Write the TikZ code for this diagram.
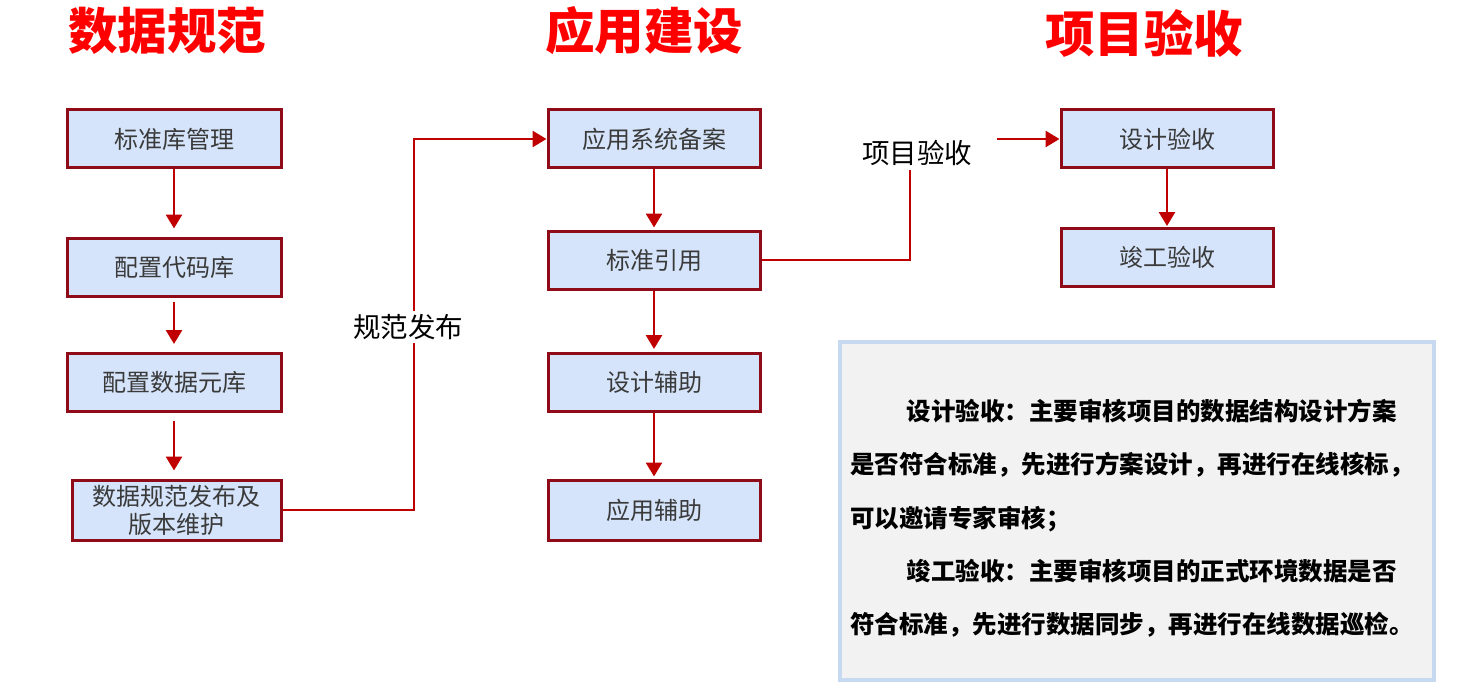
\documentclass[tikz,border=0pt]{standalone}
\usepackage{fontspec}
\setmainfont{Noto Sans CJK SC}
\usetikzlibrary{arrows.meta}
\definecolor{boxfill}{HTML}{D5E4FA}
\definecolor{boxline}{HTML}{8E0B17}
\definecolor{arrred}{HTML}{C00000}
\definecolor{boxtext}{HTML}{3A3A3A}
\definecolor{notefill}{HTML}{F2F2F2}
\definecolor{noteline}{HTML}{C6D9F1}
\definecolor{titlered}{HTML}{FF0000}
\begin{document}
\begin{tikzpicture}[x=1pt,y=-1pt,
  stepbox/.style={draw=boxline,line width=3pt,fill=boxfill,minimum width=212pt,minimum height=58pt,
    inner sep=0pt,text=boxtext,font=\fontsize{24}{28}\selectfont,align=center},
  flow/.style={draw=arrred,line width=2.7pt,-{Triangle[length=14pt,width=16pt]}},
  plain/.style={draw=arrred,line width=2.7pt},
  title/.style={text=titlered,font=\bfseries\fontsize{49.5}{52}\selectfont,inner sep=0pt},
  lab/.style={font=\fontsize{27.5}{30}\selectfont,text=black,fill=white,inner sep=3pt}]
\useasboundingbox (0,0) rectangle (1470,690);
% titles
\node[title] (t1) at (167,31) {数据规范};
\node[title] (t2) at (644,31) {应用建设};
\node[title] (t3) at (1144,33) {项目验收};
% column 1
\node[stepbox,minimum width=214pt] (a1) at (174,139) {标准库管理};
\node[stepbox,minimum width=214pt] (a2) at (174,267) {配置代码库};
\node[stepbox,minimum width=214pt] (a3) at (174,382.5) {配置数据元库};
\node[stepbox,minimum width=209pt,minimum height=60pt] (a4) at (176.5,510) {数据规范发布及\\版本维护};
% column 2
\node[stepbox] (b1) at (654,139) {应用系统备案};
\node[stepbox] (b2) at (654,260) {标准引用};
\node[stepbox] (b3) at (654,382.5) {设计辅助};
\node[stepbox,minimum height=60pt] (b4) at (654,510) {应用辅助};
% column 3
\node[stepbox] (c1) at (1167,139) {设计验收};
\node[stepbox] (c2) at (1167,257.5) {竣工验收};
% vertical arrows
\draw[flow,shorten >=8pt] (a1.south) -- (a2.north);
\draw[flow,shorten <=4pt,shorten >=8pt] (a2.south) -- (a3.north);
\draw[flow,shorten <=8pt,shorten >=8pt] (a3.south) -- (a4.north -| a3.south);
\draw[flow,shorten >=2pt] (b1.south) -- (b2.north);
\draw[flow,shorten >=3pt] (b2.south) -- (b3.north);
\draw[flow,shorten >=2pt] (b3.south) -- (b4.north);
\draw[flow,shorten >=1pt] (c1.south) -- (c2.north);
% connector 1: 规范发布
\coordinate (k1) at (414,510);
\coordinate (k2) at (414,139);
\draw[flow] (a4.east) -- (k1) -- (k2) -- (b1.west);
\node[lab] (l1) at (408,327) {规范发布};
% connector 2: 项目验收
\node[font=\fontsize{27.5}{30}\selectfont,text=black,inner sep=0pt] (l2) at (917,153) {项目验收};
\coordinate (k3) at (910,170);
\coordinate (k4) at (997,139);
\draw[plain] (b2.east) -| (k3);
\draw[flow] (k4) -- (c1.west);
% note box
\node[draw=noteline,line width=4pt,fill=notefill,minimum width=594pt,minimum height=338pt,inner sep=0pt,anchor=north west] (note) at (838,340) {};
\node[anchor=north west,inner sep=0pt,align=left,font=\bfseries\fontsize{24.5}{53.3}\selectfont,text=black] (notetext) at (850,399)
{\hspace*{2.3em}设计验收：主要审核项目的数据结构设计方案\\
是否符合标准，先进行方案设计，再进行在线核标，\\
可以邀请专家审核；\\
\hspace*{2.3em}竣工验收：主要审核项目的正式环境数据是否\\
符合标准，先进行数据同步，再进行在线数据巡检。};
\end{tikzpicture}
\end{document}
